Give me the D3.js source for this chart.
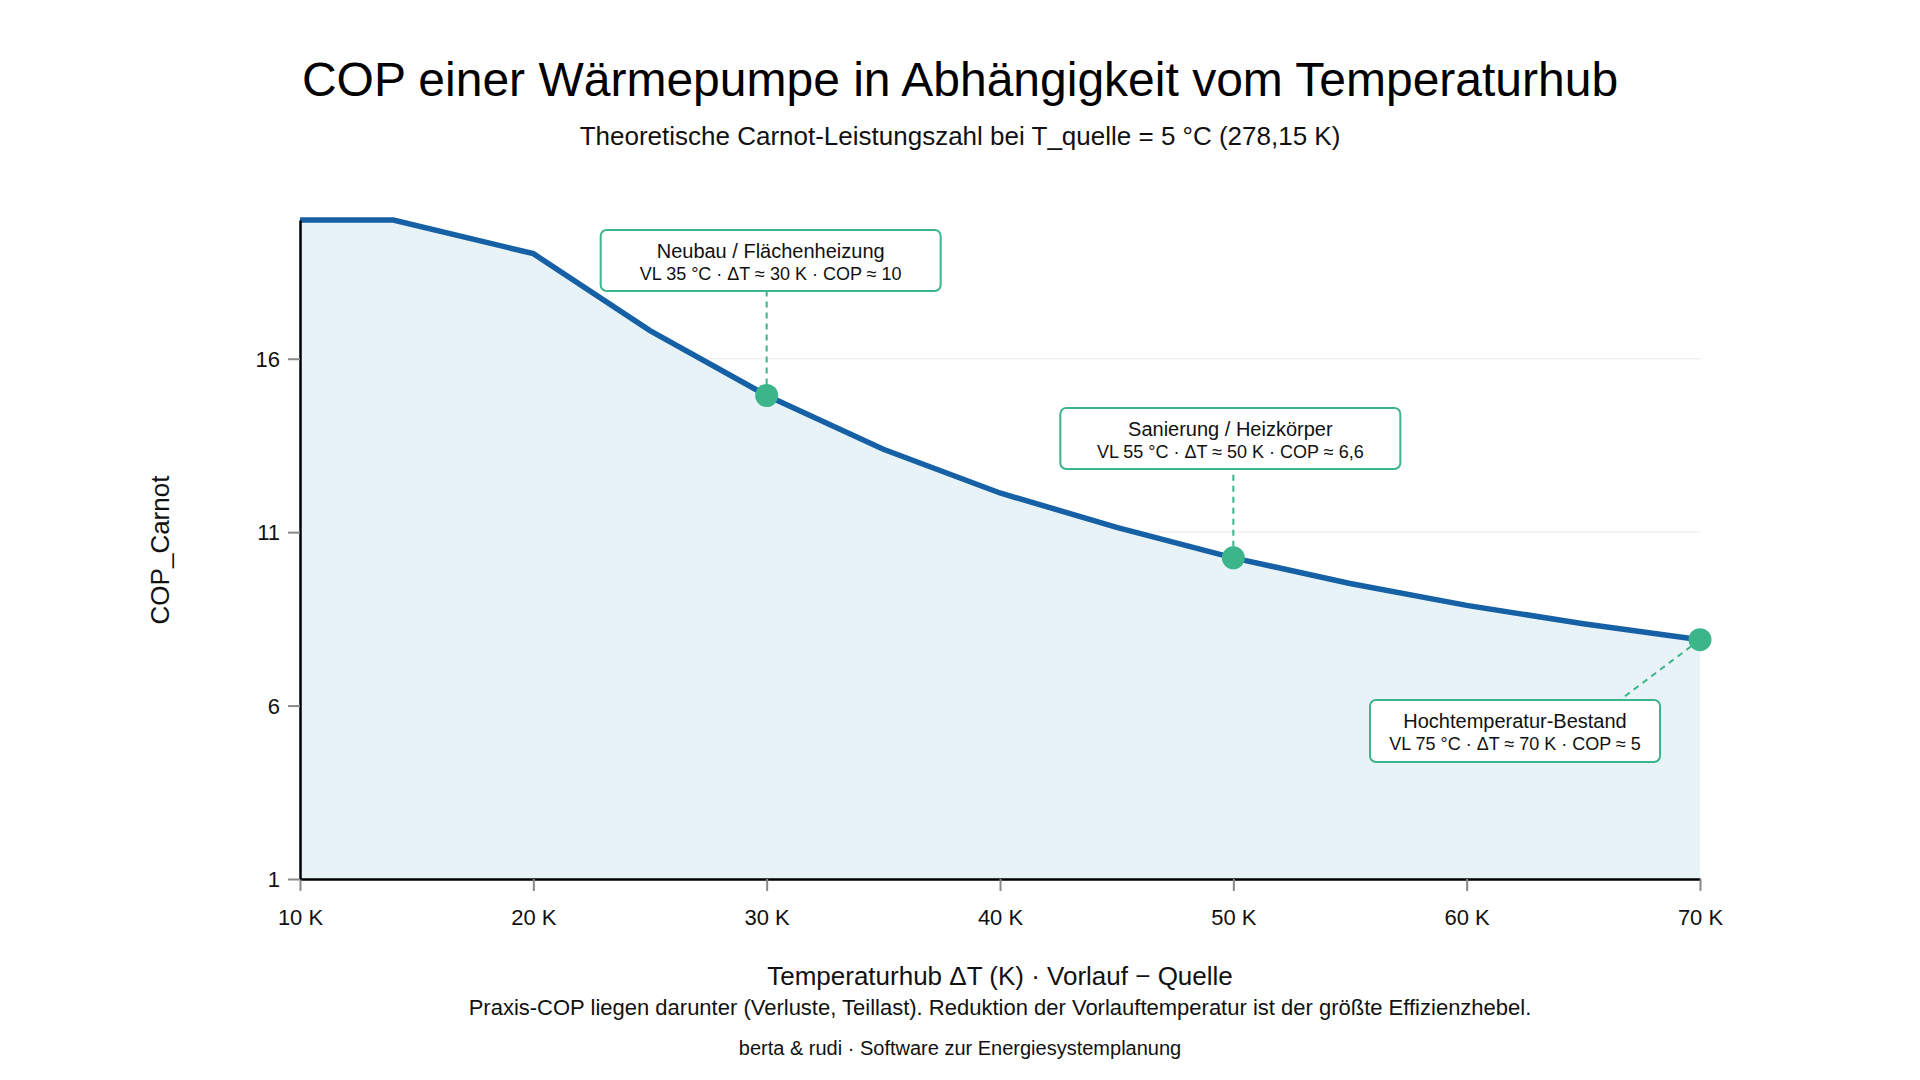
<!DOCTYPE html>
<html>
<head>
<meta charset="utf-8">
<script src="https://cdn.jsdelivr.net/npm/d3@7"></script>
<style>
  html, body { margin: 0; padding: 0; background: #ffffff; }
  svg { display: block; font-family: "Liberation Sans", Arial, sans-serif; }
</style>
</head>
<body>
<svg id="chart" width="1920" height="1080"></svg>
<script>
// ---- data ----
const deltaT = [10, 14, 20, 25, 30, 35, 40, 45, 50, 55, 60, 65, 70];
const cop = [20, 20, 19.03, 16.81, 14.94, 13.39, 12.13, 11.14, 10.26, 9.52, 8.89, 8.36, 7.90];
const xTicks = [10, 20, 30, 40, 50, 60, 70];
const yTicks = [1, 6, 11, 16];
const annoX = [30, 50, 70];
const annoTitle = ["Neubau / Flächenheizung", "Sanierung / Heizkörper", "Hochtemperatur-Bestand"];
const annoText = ["VL 35 °C · ΔT ≈ 30 K · COP ≈ 10", "VL 55 °C · ΔT ≈ 50 K · COP ≈ 6,6", "VL 75 °C · ΔT ≈ 70 K · COP ≈ 5"];

const titleText = "COP einer Wärmepumpe in Abhängigkeit vom Temperaturhub";
const subtitleText = "Theoretische Carnot-Leistungszahl bei T_quelle = 5 °C (278,15 K)";
const xLabel = "Temperaturhub ΔT (K) · Vorlauf − Quelle";
const yLabel = "COP_Carnot";
const noteText = "Praxis-COP liegen darunter (Verluste, Teillast). Reduktion der Vorlauftemperatur ist der größte Effizienzhebel.";
const footerText = "berta & rudi · Software zur Energiesystemplanung";

// ---- layout ----
const W = 1920, H = 1080;
const m = { left: 300, right: 220, top: 220, bottom: 201 };
const iw = W - m.left - m.right, ih = H - m.top - m.bottom;

const blue = "#1661a6", fillBlue = "#e8f3f8", green = "#3bb589";

const svg = d3.select("#chart");
const data = deltaT.map((d, i) => ({ x: d, y: cop[i] }));

const x = d3.scaleLinear().domain([10, 70]).range([0, iw]);
const y = d3.scaleLinear().domain([1, 20]).range([ih, 0]);

const g = svg.append("g").attr("transform", `translate(${m.left},${m.top})`);

// grid
g.append("g").selectAll("line").data(yTicks.filter(t => t !== 1)).join("line")
  .attr("x1", 0).attr("x2", iw)
  .attr("y1", d => y(d)).attr("y2", d => y(d))
  .attr("stroke", "#ebebeb").attr("stroke-width", 1);

// area
g.append("path").datum(data)
  .attr("d", d3.area().x(d => x(d.x)).y0(y(1)).y1(d => y(d.y)))
  .attr("fill", fillBlue);

// line
g.append("path").datum(data)
  .attr("d", d3.line().x(d => x(d.x)).y(d => y(d.y)))
  .attr("fill", "none").attr("stroke", blue).attr("stroke-width", 5.5)
  .attr("stroke-linejoin", "miter");

// axes
const xAxis = g.append("g").attr("transform", `translate(0,${ih})`)
  .call(d3.axisBottom(x).tickValues(xTicks).tickFormat(d => d + " K").tickSize(12).tickSizeOuter(0));
const yAxis = g.append("g")
  .call(d3.axisLeft(y).tickValues(yTicks).tickFormat(d3.format("d")).tickSize(12).tickSizeOuter(0));
[xAxis, yAxis].forEach(a => {
  a.select(".domain").attr("stroke", "#000").attr("stroke-width", 2.5);
  a.selectAll(".tick line").attr("stroke", "#888").attr("stroke-width", 2);
  a.selectAll(".tick text").attr("font-size", 22).attr("fill", "#111")
    .attr("font-family", "Liberation Sans, Arial, sans-serif");
});
xAxis.selectAll(".tick text").attr("dy", "0.71em").attr("y", 30);
yAxis.selectAll(".tick text").attr("x", -20).attr("dy", "0.35em");
xAxis.raise(); yAxis.raise();

// annotations
const boxes = [
  { dx: 4, top: 10, w: 340, h: 61, lx: 0 },
  { dx: -3, top: 188, w: 340, h: 61, lx: 0 },
  { dx: -185, top: 480, w: 290, h: 62, lx: 105 }
];
annoX.forEach((ax, i) => {
  const idx = deltaT.indexOf(ax);
  const px = x(ax), py = y(cop[idx]);
  const b = boxes[i];
  const cx = px + b.dx;
  const bx = cx - b.w / 2, by = b.top;
  let lx2, ly2;
  if (i < 2) { lx2 = px; ly2 = by + b.h; } else { lx2 = cx + b.lx; ly2 = by; }
  g.append("line").attr("x1", px).attr("y1", py).attr("x2", lx2).attr("y2", ly2)
    .attr("stroke", green).attr("stroke-width", 2).attr("stroke-dasharray", "6,5");
  g.append("rect").attr("x", bx).attr("y", by).attr("width", b.w).attr("height", b.h)
    .attr("rx", 6).attr("fill", "#fff").attr("stroke", green).attr("stroke-width", 2);
  g.append("text").attr("x", cx).attr("y", by + 28).attr("text-anchor", "middle")
    .attr("font-size", 20).attr("fill", "#111").text(annoTitle[i]);
  g.append("text").attr("x", cx).attr("y", by + 50).attr("text-anchor", "middle")
    .attr("font-size", 18).attr("fill", "#111").text(annoText[i]);
  g.append("circle").attr("cx", px).attr("cy", py).attr("r", 11.5).attr("fill", green);
});

// texts
svg.append("text").attr("x", 960).attr("y", 96).attr("text-anchor", "middle")
  .attr("font-size", 48).attr("fill", "#000").text(titleText);
svg.append("text").attr("x", 960).attr("y", 145).attr("text-anchor", "middle")
  .attr("font-size", 26).attr("fill", "#111").text(subtitleText);
svg.append("text").attr("x", m.left + iw / 2).attr("y", 985).attr("text-anchor", "middle")
  .attr("font-size", 26).attr("fill", "#111").text(xLabel);
svg.append("text").attr("x", m.left + iw / 2).attr("y", 1015).attr("text-anchor", "middle")
  .attr("font-size", 22).attr("fill", "#111").text(noteText);
svg.append("text").attr("x", 960).attr("y", 1055).attr("text-anchor", "middle")
  .attr("font-size", 20).attr("fill", "#111").text(footerText);
svg.append("text").attr("transform", `translate(169,550) rotate(-90)`).attr("text-anchor", "middle")
  .attr("font-size", 26).attr("fill", "#111").text(yLabel);
</script>
</body>
</html>
